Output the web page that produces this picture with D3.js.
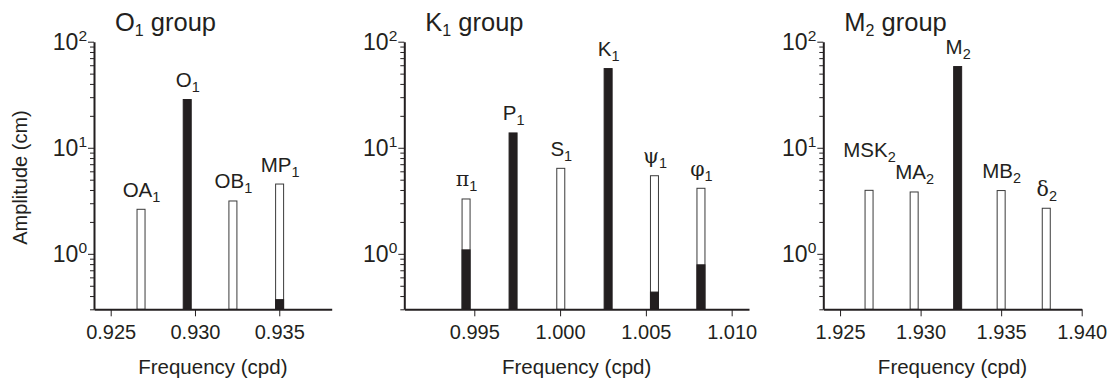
<!DOCTYPE html>
<html>
<head>
<meta charset="utf-8">
<script src="https://cdn.jsdelivr.net/npm/d3@7"></script>
<style>
body { margin: 0; background: #fff; }
text, tspan { font-family: Arial, "Liberation Sans", Helvetica, sans-serif; fill: #231f20; }
tspan.greek { font-family: "DejaVu Serif", "Liberation Serif", serif; fill: #231f20; }
</style>
</head>
<body>
<div id="chart"></div>
<script>
// O1 group
var o1Names = ["OA", "O", "OB", "MP"];
var o1Freq = [0.9268, 0.92954, 0.93225, 0.93502];
var o1Amp = [2.63, 28.5, 3.15, 4.55];
var o1Solid = [0, 28.5, 0, 0.37];
var o1Ticks = [0.925, 0.930, 0.935];

// K1 group
var k1Names = ["\u03c0", "P", "S", "K", "\u03c8", "\u03c6"];
var k1Freq = [0.99452, 0.99726, 1.00004, 1.0028, 1.0055, 1.00821];
var k1Amp = [3.29, 13.8, 6.4, 55.8, 5.45, 4.15];
var k1Solid = [1.09, 13.8, 0, 55.8, 0.436, 0.788];
var k1Ticks = [0.995, 1.000, 1.005, 1.010];

// M2 group
var m2Names = ["MSK", "MA", "M", "MB", "\u03b4"];
var m2Freq = [1.9268, 1.9296, 1.9323, 1.9350, 1.9378];
var m2Amp = [3.97, 3.83, 58.3, 3.95, 2.69];
var m2Solid = [0, 0, 58.3, 0, 0];
var m2Ticks = [1.925, 1.930, 1.935, 1.940];

var yMajor = [1, 10, 100];
var yMinor = [0.3, 0.4, 0.5, 0.6, 0.7, 0.8, 0.9, 2, 3, 4, 5, 6, 7, 8, 9, 20, 30, 40, 50, 60, 70, 80, 90];

var panels = [
    {title: "O", sub: "1", names: o1Names, freq: o1Freq, amp: o1Amp, solid: o1Solid, ticks: o1Ticks,
        domain: [0.92401, 0.93811], range: [94, 331.7], yLabel: true},
    {title: "K", sub: "1", names: k1Names, freq: k1Freq, amp: k1Amp, solid: k1Solid, ticks: k1Ticks,
        domain: [0.99092, 1.01101], range: [404.3, 749]},
    {title: "M", sub: "2", names: m2Names, freq: m2Freq, amp: m2Amp, solid: m2Solid, ticks: m2Ticks,
        domain: [1.92396, 1.940], range: [823.3, 1081.7]}
];

var ink = "#231f20";
var width = 1111, height = 384;
var barW = 8;

var svg = d3.select("#chart").append("svg")
    .attr("width", width)
    .attr("height", height);

// shared log y scale
var y = d3.scaleLog()
    .domain([0.3, 100])
    .range([309.3, 41.7]);

panels.forEach(function(p) {
    var x = d3.scaleLinear().domain(p.domain).range(p.range);
    var g = svg.append("g");
    var subIdx = p.sub;

    // title
    var t = g.append("text")
        .attr("x", p.range[0] + 21)
        .attr("y", 31)
        .style("font-size", "25.5px");
    t.append("tspan").text(p.title);
    t.append("tspan").attr("dy", 5).style("font-size", "16px").text(p.sub);
    t.append("tspan").attr("dy", -5).text(" group");

    // bars
    var rows = p.names.map(function(n, i) {
        return {name: n, f: p.freq[i], a: p.amp[i], s: p.solid[i]};
    });

    g.selectAll("rect.open")
        .data(rows.filter(function(d) { return d.s < d.a; }))
        .enter().append("rect")
        .attr("class", "open")
        .attr("x", function(d) { return x(d.f) - barW / 2; })
        .attr("y", function(d) { return y(d.a); })
        .attr("width", barW)
        .attr("height", function(d) { return y(0.3) - y(d.a); })
        .attr("fill", "#fff")
        .attr("stroke", "#3a3a3a")
        .attr("stroke-width", 1);

    g.selectAll("rect.solid")
        .data(rows.filter(function(d) { return d.s > 0; }))
        .enter().append("rect")
        .attr("class", "solid")
        .attr("x", function(d) { return x(d.f) - barW / 2; })
        .attr("y", function(d) { return y(d.s); })
        .attr("width", barW)
        .attr("height", function(d) { return y(0.3) - y(d.s); })
        .attr("fill", ink)
        .attr("stroke", ink)
        .attr("stroke-width", 1);

    // constituent labels
    var labels = g.selectAll("text.lab")
        .data(rows)
        .enter().append("text")
        .attr("class", "lab")
        .attr("x", function(d) { return x(d.f) + 0.5; })
        .attr("y", function(d) { return y(d.a) - (d.name === "MSK" ? 33.5 : 12.5); })
        .attr("text-anchor", "middle")
        .style("font-size", "20.5px");
    labels.append("tspan")
        .attr("class", function(d) { return /[\u0370-\u03ff]/.test(d.name) ? "greek" : null; })
        .text(function(d) { return d.name; });
    labels.append("tspan")
        .attr("dy", 5)
        .style("font-size", "14.5px")
        .text(subIdx);

    // x axis
    var xAxis = g.append("g")
        .attr("transform", "translate(0," + y(0.3) + ")")
        .call(d3.axisBottom(x).tickValues(p.ticks).tickSize(7).tickSizeOuter(0).tickPadding(9)
            .tickFormat(d3.format(".3f")));
    xAxis.select(".domain").attr("stroke", ink).attr("stroke-width", 2);
    xAxis.selectAll(".tick line").attr("stroke", ink).attr("stroke-width", 1);
    xAxis.selectAll(".tick text").style("font-size", "20px").attr("fill", ink);

    // y axis: minor ticks
    var yMin = g.append("g")
        .attr("transform", "translate(" + p.range[0] + ",0)")
        .call(d3.axisLeft(y).tickValues(yMinor).tickSize(4).tickSizeOuter(0).tickFormat(""));
    yMin.select(".domain").remove();
    yMin.selectAll(".tick line").attr("stroke", ink).attr("stroke-width", 1);

    // y axis: decades
    var yAx = g.append("g")
        .attr("transform", "translate(" + p.range[0] + ",0)")
        .call(d3.axisLeft(y).tickValues(yMajor).tickSize(6).tickSizeOuter(0).tickFormat(""));
    yAx.select(".domain").attr("stroke", ink).attr("stroke-width", 2);
    yAx.selectAll(".tick line").attr("stroke", ink).attr("stroke-width", 1);
    var yt = yAx.selectAll(".tick").append("text")
        .attr("x", -7)
        .attr("y", 7.5)
        .attr("text-anchor", "end")
        .attr("fill", ink)
        .style("font-size", "23px");
    yt.append("tspan").text("10");
    yt.append("tspan")
        .attr("dy", -9)
        .style("font-size", "15.5px")
        .text(function(d) { return Math.round(Math.log10(d)); });

    // x label
    g.append("text")
        .attr("x", (p.range[0] + p.range[1]) / 2)
        .attr("y", 374)
        .attr("text-anchor", "middle")
        .style("font-size", "20.5px")
        .text("Frequency (cpd)");

    if (p.yLabel) {
        g.append("text")
            .attr("transform", "translate(27," + 177.5 + ") rotate(-90)")
            .attr("text-anchor", "middle")
            .style("font-size", "20px")
            .text("Amplitude (cm)");
    }
});
</script>
</body>
</html>
